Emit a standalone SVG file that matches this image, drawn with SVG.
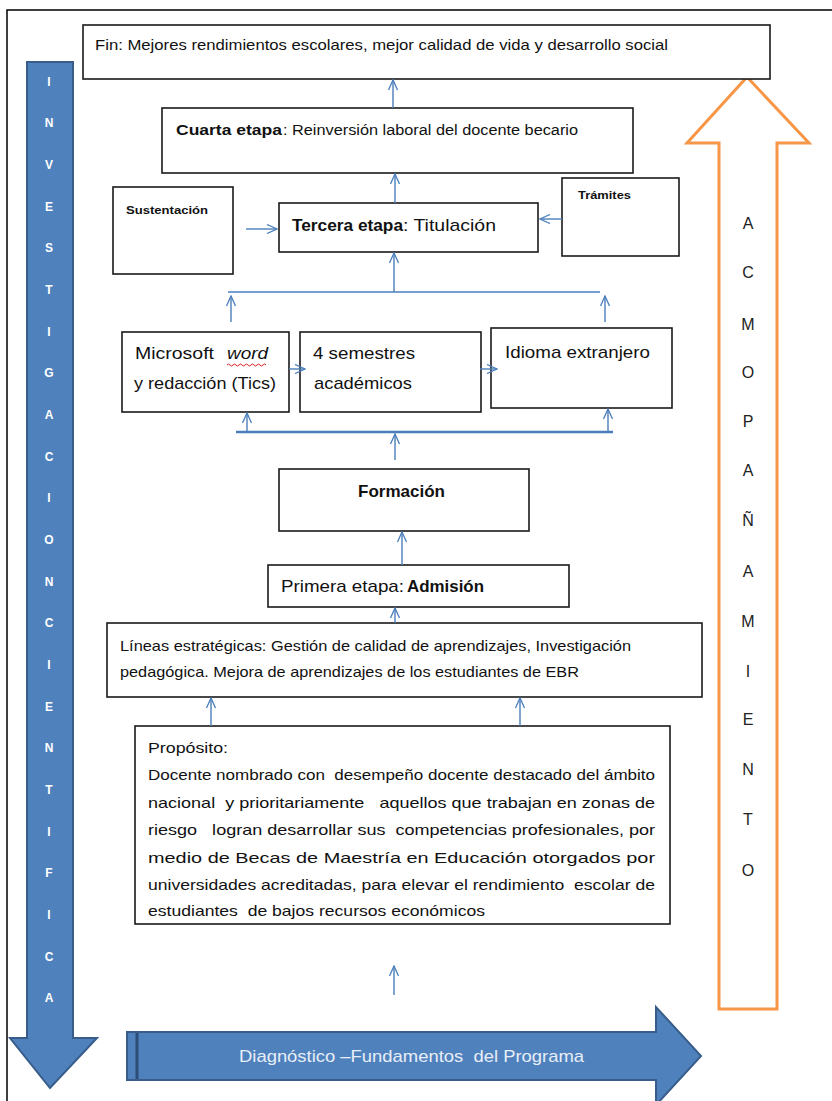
<svg xmlns="http://www.w3.org/2000/svg" width="832" height="1101" viewBox="0 0 832 1101">
<style>
.box{fill:#fff;stroke:#1a1a1a;stroke-width:1.6}
.t{font-family:"Liberation Sans",Arial,sans-serif;fill:#111;white-space:pre}
.b{font-weight:bold}
.c{stroke:#4a7ebb;stroke-width:1.4;fill:none}
.vl{font-family:"Liberation Sans",Arial,sans-serif;font-weight:bold;font-size:12px;fill:#fff;text-anchor:middle}
.ol{font-family:"Liberation Sans",Arial,sans-serif;font-size:16px;fill:#222;text-anchor:middle}
</style>
<defs>
<marker id="ah" viewBox="0 0 12 10" refX="11" refY="5" markerWidth="12" markerHeight="10" markerUnits="userSpaceOnUse" orient="auto">
<path d="M1,0.5 L11,5 L1,9.5" fill="none" stroke="#4a7ebb" stroke-width="1.3"/>
</marker>
</defs>
<rect width="832" height="1101" fill="#fff"/>
<path d="M7,1101 V10 H832" fill="none" stroke="#000" stroke-width="1.5"/>

<g id="investigacion">
<path d="M27,62 H73 V1038 H97 L50,1088 L10,1038 H27 Z" fill="#4f81bd" stroke="#385d8a" stroke-width="2"/>
<text class="vl" x="49" y="86">I</text>
<text class="vl" x="49" y="127">N</text>
<text class="vl" x="49" y="169">V</text>
<text class="vl" x="49" y="211">E</text>
<text class="vl" x="49" y="252">S</text>
<text class="vl" x="49" y="294">T</text>
<text class="vl" x="49" y="336">I</text>
<text class="vl" x="49" y="377">G</text>
<text class="vl" x="49" y="419">A</text>
<text class="vl" x="49" y="461">C</text>
<text class="vl" x="49" y="502">I</text>
<text class="vl" x="49" y="544">O</text>
<text class="vl" x="49" y="586">N</text>
<text class="vl" x="49" y="627">C</text>
<text class="vl" x="49" y="669">I</text>
<text class="vl" x="49" y="711">E</text>
<text class="vl" x="49" y="752">N</text>
<text class="vl" x="49" y="794">T</text>
<text class="vl" x="49" y="836">I</text>
<text class="vl" x="49" y="877">F</text>
<text class="vl" x="49" y="919">I</text>
<text class="vl" x="49" y="961">C</text>
<text class="vl" x="49" y="1002">A</text>
</g>

<g id="acompanamiento">
<path d="M719,1009 V143 H687 L747,77 L809,143 H777 V1009 Z" fill="#fff" stroke="#f79646" stroke-width="3"/>
<text class="ol" x="748" y="229">A</text>
<text class="ol" x="748" y="278">C</text>
<text class="ol" x="748" y="330">M</text>
<text class="ol" x="748" y="378">O</text>
<text class="ol" x="748" y="427">P</text>
<text class="ol" x="748" y="476">A</text>
<text class="ol" x="748" y="526">Ñ</text>
<text class="ol" x="748" y="577">A</text>
<text class="ol" x="748" y="627">M</text>
<text class="ol" x="748" y="677">I</text>
<text class="ol" x="748" y="725">E</text>
<text class="ol" x="748" y="775">N</text>
<text class="ol" x="748" y="825">T</text>
<text class="ol" x="748" y="876">O</text>
</g>

<g id="diagnostico">
<path d="M127,1032 H656 V1007 L701,1056 L656,1105 V1080 H127 Z" fill="#4f81bd" stroke="#385d8a" stroke-width="2"/>
<line x1="137" y1="1033" x2="137" y2="1079" stroke="#2c4d75" stroke-width="3"/>
<text class="t" x="239" y="1062" font-size="17" style="fill:#e8eef7" textLength="345" lengthAdjust="spacingAndGlyphs">Diagnóstico –Fundamentos  del Programa</text>
</g>

<g id="fin">
<rect class="box" x="83" y="25" width="687" height="54"/>
<text class="t" x="95" y="50" font-size="15" textLength="573" lengthAdjust="spacingAndGlyphs">Fin: Mejores rendimientos escolares, mejor calidad de vida y desarrollo social</text>
</g>

<g id="cuarta">
<rect class="box" x="162" y="108" width="471" height="65"/>
<text class="t b" x="176" y="135" font-size="14" textLength="106" lengthAdjust="spacingAndGlyphs">Cuarta etapa</text>
<text class="t" x="283" y="135" font-size="14" textLength="295" lengthAdjust="spacingAndGlyphs">: Reinversión laboral del docente becario</text>
</g>

<g id="sustentacion">
<rect class="box" x="113" y="187" width="120" height="87"/>
<text class="t b" x="126" y="214" font-size="11" textLength="82" lengthAdjust="spacingAndGlyphs">Sustentación</text>
</g>

<g id="tramites">
<rect class="box" x="562" y="178" width="117" height="78"/>
<text class="t b" x="578" y="199" font-size="11" textLength="53" lengthAdjust="spacingAndGlyphs">Trámites</text>
</g>

<g id="tercera">
<rect class="box" x="279" y="203" width="259" height="49"/>
<text class="t b" x="292" y="231" font-size="17" textLength="111" lengthAdjust="spacingAndGlyphs">Tercera etapa</text>
<text class="t" x="403" y="231" font-size="17" textLength="93" lengthAdjust="spacingAndGlyphs">: Titulación</text>
</g>

<g id="microsoft">
<rect class="box" x="122" y="332" width="167" height="80"/>
<text class="t" x="135" y="359" font-size="17" textLength="79" lengthAdjust="spacingAndGlyphs">Microsoft</text>
<text class="t" x="227" y="359" font-size="17" font-style="italic" textLength="41" lengthAdjust="spacingAndGlyphs">word</text>
<path d="M227,365 q1.5,-2 3,0 t3,0 t3,0 t3,0 t3,0 t3,0 t3,0 t3,0 t3,0 t3,0 t3,0 t3,0 t3,0" fill="none" stroke="#e02020" stroke-width="1"/>
<text class="t" x="134" y="389" font-size="17" textLength="142" lengthAdjust="spacingAndGlyphs">y redacción (Tics)</text>
</g>

<g id="semestres">
<rect class="box" x="300" y="332" width="181" height="80"/>
<text class="t" x="313" y="359" font-size="17" textLength="102" lengthAdjust="spacingAndGlyphs">4 semestres</text>
<text class="t" x="314" y="389" font-size="17" textLength="98" lengthAdjust="spacingAndGlyphs">académicos</text>
</g>

<g id="idioma">
<rect class="box" x="491" y="328" width="181" height="80"/>
<text class="t" x="505" y="358" font-size="17" textLength="145" lengthAdjust="spacingAndGlyphs">Idioma extranjero</text>
</g>

<g id="formacion">
<rect class="box" x="279" y="469" width="250" height="62"/>
<text class="t b" x="358" y="497" font-size="17" textLength="87" lengthAdjust="spacingAndGlyphs">Formación</text>
</g>

<g id="primera">
<rect class="box" x="268" y="565" width="301" height="42"/>
<text class="t" x="281" y="592" font-size="17" textLength="123" lengthAdjust="spacingAndGlyphs">Primera etapa:</text>
<text class="t b" x="407" y="592" font-size="17" textLength="77" lengthAdjust="spacingAndGlyphs">Admisión</text>
</g>

<g id="lineas">
<rect class="box" x="107" y="623" width="595" height="74"/>
<text class="t" x="120" y="651" font-size="15" textLength="511" lengthAdjust="spacingAndGlyphs">Líneas estratégicas: Gestión de calidad de aprendizajes, Investigación</text>
<text class="t" x="120" y="677" font-size="15" textLength="459" lengthAdjust="spacingAndGlyphs">pedagógica. Mejora de aprendizajes de los estudiantes de EBR</text>
</g>

<g id="proposito">
<rect class="box" x="135" y="726" width="535" height="198"/>
<text class="t" x="148" y="753" font-size="15" textLength="80" lengthAdjust="spacingAndGlyphs">Propósito:</text>
<text class="t" x="148" y="780" font-size="15" textLength="507" lengthAdjust="spacingAndGlyphs">Docente nombrado con  desempeño docente destacado del ámbito</text>
<text class="t" x="148" y="808" font-size="15" textLength="507" lengthAdjust="spacingAndGlyphs">nacional  y prioritariamente   aquellos que trabajan en zonas de</text>
<text class="t" x="148" y="835" font-size="15" textLength="507" lengthAdjust="spacingAndGlyphs">riesgo   logran desarrollar sus  competencias profesionales, por</text>
<text class="t" x="148" y="863" font-size="15" textLength="507" lengthAdjust="spacingAndGlyphs">medio de Becas de Maestría en Educación otorgados por</text>
<text class="t" x="148" y="890" font-size="15" textLength="507" lengthAdjust="spacingAndGlyphs">universidades acreditadas, para elevar el rendimiento  escolar de</text>
<text class="t" x="148" y="916" font-size="15" textLength="337" lengthAdjust="spacingAndGlyphs">estudiantes  de bajos recursos económicos</text>
</g>

<g id="connectors">
<line class="c" x1="393" y1="108" x2="393" y2="80" marker-end="url(#ah)"/>
<line class="c" x1="395" y1="203" x2="395" y2="174" marker-end="url(#ah)"/>
<line class="c" x1="394" y1="292" x2="394" y2="253" marker-end="url(#ah)"/>
<line class="c" x1="228" y1="292" x2="600" y2="292"/>
<line class="c" x1="231" y1="322" x2="231" y2="296" marker-end="url(#ah)"/>
<line class="c" x1="605" y1="322" x2="605" y2="296" marker-end="url(#ah)"/>
<line class="c" x1="246" y1="229" x2="277" y2="229" marker-end="url(#ah)"/>
<line class="c" x1="562" y1="219" x2="540" y2="219" marker-end="url(#ah)"/>
<line class="c" x1="289" y1="369" x2="305" y2="369" marker-end="url(#ah)"/>
<line class="c" x1="480" y1="369" x2="497" y2="369" marker-end="url(#ah)"/>
<line x1="236" y1="432" x2="613" y2="432" stroke="#4a7ebb" stroke-width="2.6"/>
<line class="c" x1="247" y1="431" x2="247" y2="413" marker-end="url(#ah)"/>
<line class="c" x1="608" y1="431" x2="608" y2="409" marker-end="url(#ah)"/>
<line class="c" x1="395" y1="460" x2="395" y2="434" marker-end="url(#ah)"/>
<line class="c" x1="402" y1="565" x2="402" y2="532" marker-end="url(#ah)"/>
<line class="c" x1="395" y1="623" x2="395" y2="608" marker-end="url(#ah)"/>
<line class="c" x1="211" y1="726" x2="211" y2="698" marker-end="url(#ah)"/>
<line class="c" x1="520" y1="726" x2="520" y2="698" marker-end="url(#ah)"/>
<line class="c" x1="394" y1="995" x2="394" y2="966" marker-end="url(#ah)"/>
</g>
</svg>
